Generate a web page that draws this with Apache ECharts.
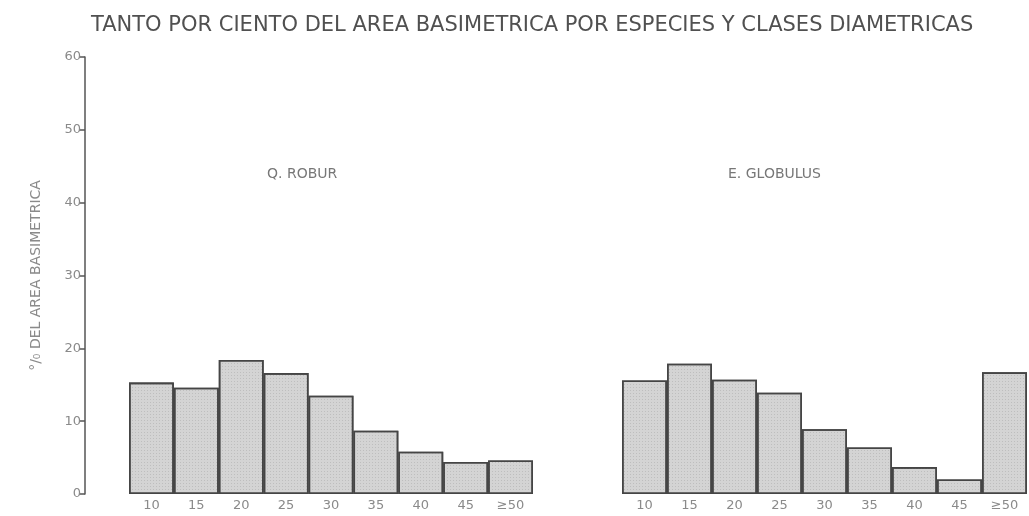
<!DOCTYPE html>
<html>
<head>
<meta charset="utf-8">
<script src="https://cdn.jsdelivr.net/npm/echarts@6/dist/echarts.min.js"></script>
<style>
html,body{margin:0;padding:0;background:#fff;}
#c{width:1029px;height:516px;}
</style>
</head>
<body>
<div id="c"></div>
<script>
const titleText = 'TANTO POR CIENTO DEL AREA BASIMETRICA POR ESPECIES Y CLASES DIAMETRICAS';
const yAxisName = '°/₀ DEL AREA BASIMETRICA';
const categories = ['10', '15', '20', '25', '30', '35', '40', '45', '≥50'];
const panelNames = ['Q. ROBUR', 'E. GLOBULUS'];
const roburValues = [15.3, 14.6, 18.4, 16.6, 13.5, 8.7, 5.8, 4.4, 4.6];
const globulusValues = [15.6, 17.9, 15.7, 13.9, 8.9, 6.4, 3.7, 2.0, 16.7];
const yMin = 0, yMax = 60, yStep = 10;

const FONT = 'DejaVu Sans';
const chart = echarts.init(document.getElementById('c'), null, {renderer: 'canvas'});

const barStyle = {
  color: '#d4d4d4',
  borderColor: '#454545',
  borderWidth: 1.6,
  decal: {
    symbol: 'rect',
    symbolSize: 1,
    color: 'rgba(150,150,150,0.35)',
    dashArrayX: [1, 2],
    dashArrayY: [1, 2],
    rotation: 0
  }
};

const xAxisCommon = {
  type: 'category',
  data: categories,
  axisLine: {show: false},
  axisTick: {show: false},
  axisLabel: {color: '#8a8a8a', fontSize: 13, fontFamily: FONT, margin: 5}
};

chart.setOption({
  backgroundColor: '#ffffff',
  animation: false,
  aria: {enabled: false},
  title: [
    {text: titleText, left: 86, top: 10,
     textStyle: {fontSize: 21, fontWeight: 'normal', color: '#505050', fontFamily: FONT}},
    {text: panelNames[0], left: 262, top: 162,
     textStyle: {fontSize: 14, fontWeight: 'normal', color: '#777', fontFamily: FONT}},
    {text: panelNames[1], left: 723, top: 162,
     textStyle: {fontSize: 14, fontWeight: 'normal', color: '#777', fontFamily: FONT}}
  ],
  grid: [
    {left: 129, width: 404, top: 57, height: 437},
    {left: 622, width: 405, top: 57, height: 437}
  ],
  xAxis: [
    Object.assign({gridIndex: 0}, xAxisCommon),
    Object.assign({gridIndex: 1}, xAxisCommon)
  ],
  yAxis: [
    {
      gridIndex: 0, type: 'value', min: yMin, max: yMax, interval: yStep,
      offset: 44,
      axisLine: {show: true, lineStyle: {color: '#555', width: 1.5}},
      axisTick: {show: true, length: 6, lineStyle: {color: '#555', width: 1.5}},
      axisLabel: {color: '#8a8a8a', fontSize: 13, fontFamily: FONT, margin: 4},
      splitLine: {show: false},
      name: yAxisName, nameLocation: 'middle', nameGap: 42, nameRotate: 90,
      nameTextStyle: {color: '#8a8a8a', fontSize: 14, fontFamily: FONT}
    },
    {
      gridIndex: 1, type: 'value', min: yMin, max: yMax, interval: yStep, show: false
    }
  ],
  series: [
    {type: 'bar', xAxisIndex: 0, yAxisIndex: 0, data: roburValues,
     barCategoryGap: '0%', itemStyle: barStyle},
    {type: 'bar', xAxisIndex: 1, yAxisIndex: 1, data: globulusValues,
     barCategoryGap: '0%', itemStyle: barStyle}
  ]
});
</script>
</body>
</html>
